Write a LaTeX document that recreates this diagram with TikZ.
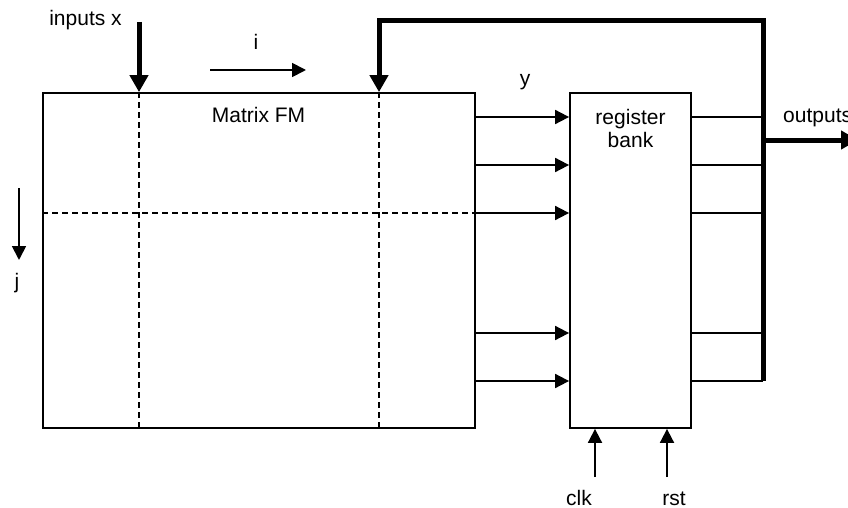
\documentclass[tikz,border=0pt]{standalone}
\usepackage{fontspec}
\setmainfont{Liberation Sans}
\usetikzlibrary{arrows.meta, positioning}

\begin{document}
\begin{tikzpicture}[x=1pt, y=-1pt,
  font=\fontsize{21}{23}\selectfont,
  blk/.style={rectangle, draw, line width=1.8pt, inner sep=0pt},
  arr/.style={-{Triangle[length=14pt, width=14pt]}, line width=1.8pt},
  wire/.style={line width=1.8pt},
  grid/.style={line width=1.8pt, dash pattern=on 6pt off 4pt},
  busarr/.style={-{Triangle[length=17pt, width=18pt]}, line width=5pt,
    line join=miter},
  txt/.style={inner sep=0pt, anchor=base},
]
\useasboundingbox (0,0) rectangle (848,508);
% blocks
\node[blk, minimum width=432pt, minimum height=335pt] (fm)  at (259,260.5) {};
\node[blk, minimum width=121pt, minimum height=335pt] (reg) at (630.5,260.5) {};
\node[txt] (fmlbl) at (258.5,123) {Matrix FM};
\node[txt, align=center] (reglbl) at (630.5,147) {register\\bank};
% matrix grid
\coordinate (ci) at (139,0);
\coordinate (cj) at (379,0);
\coordinate (bus) at (763,0);
\foreach \yy [count=\i] in {117,165,213,333,381}
  \coordinate (row\i) at (0,\yy);
\draw[grid] (fm.north -| ci) -- (fm.south -| ci);
\draw[grid] (fm.north -| cj) -- (fm.south -| cj);
\draw[grid] (fm.west |- row3) -- (fm.east |- row3);
% y outputs into register bank
\foreach \i in {1,...,5} {
  \draw[arr]  (fm.east |- row\i)  -- (reg.west |- row\i);
  \draw[wire] (reg.east |- row\i) -- (bus |- row\i);
}
\node[txt] (ylbl) at (525,86) {y};
% bus and feedback
\coordinate (bustop) at (763,21);
\coordinate (fbtop)  at (379,21);
\draw[busarr] (bus |- row5) -- (bustop) -- (fbtop) -- (fbtop |- fm.north);
\coordinate (outend) at (858,140);
\draw[busarr] (bus |- outend) -- (outend);
\node[txt, anchor=base west] (outlbl) at (783,122) {outputs};
% inputs
\coordinate (xin) at (139,22);
\draw[busarr] (xin) -- (xin |- fm.north);
\node[txt] (inlbl) at (85.5,26) {inputs x};
% indices
\coordinate (ia) at (210,70);
\coordinate (ib) at (306,70);
\draw[arr] (ia) -- (ib);
\node[txt] (ilbl) at (256,50) {i};
\coordinate (ja) at (19,188);
\coordinate (jb) at (19,260);
\draw[arr] (ja) -- (jb);
\node[txt] (jlbl) at (17,288) {j};
% clock and reset
\coordinate (clkin) at (595,477);
\coordinate (rstin) at (667,477);
\draw[arr] (clkin) -- (clkin |- reg.south);
\draw[arr] (rstin) -- (rstin |- reg.south);
\node[txt] (clklbl) at (579,505) {clk};
\node[txt] (rstlbl) at (674,505) {rst};
\end{tikzpicture}
\end{document}
